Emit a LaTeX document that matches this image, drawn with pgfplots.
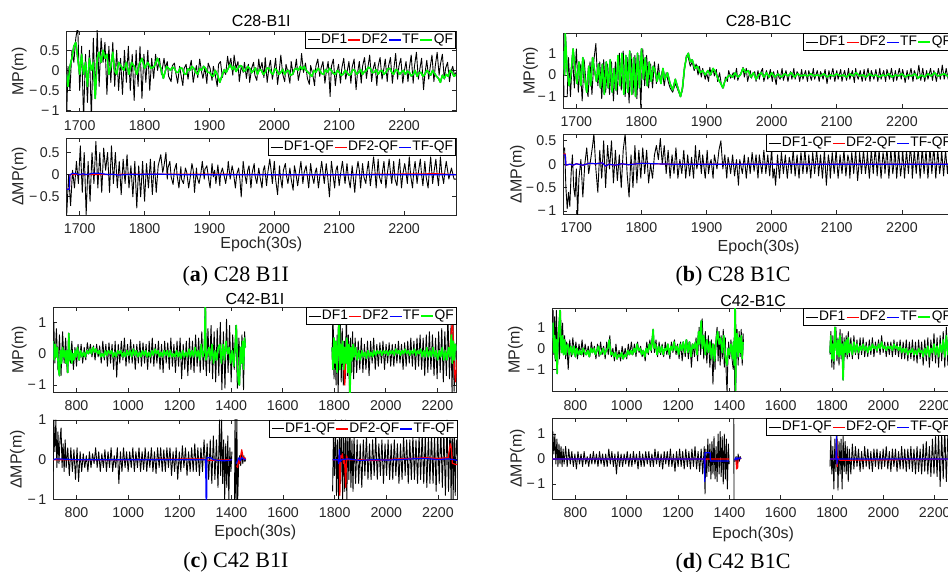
\documentclass[border=0pt]{standalone}
\usepackage{pgfplots}
\pgfplotsset{compat=1.18}
\usepackage{pgfplotstable}
\usepackage{fontspec}
\setmainfont{Liberation Sans}
\newfontfamily\capfont{Liberation Serif}
\definecolor{mg}{rgb}{0.15,0.15,0.15}
\definecolor{qfg}{HTML}{00FF00}

\pgfplotsset{
  mp/.style={
    scale only axis, anchor=south west, clip=true,
    axis line style={draw=mg, line width=0.4pt},
    tick align=inside, major tick length=2pt,
    tick style={draw=mg, line width=0.4pt},
    ticklabel style={font=\fontsize{7.1}{8}\selectfont, text=mg},
    xticklabel style={anchor=base, yshift=-9.2pt},
    every axis x label/.style={at={(axis description cs:0.5,0)}, anchor=base, font=\fontsize{8}{9}\selectfont, text=mg},
    every axis y label/.style={rotate=90, anchor=south, inner sep=0pt, font=\fontsize{8}{9}\selectfont, text=mg},
    every axis title/.style={at={(0.5,1)}, anchor=base, font=\fontsize{8}{9}\selectfont, text=black},
    unbounded coords=jump,
    every axis plot/.append style={line join=round},
    legend style={at={(1,1)}, anchor=north east, legend columns=-1, draw=black, line width=0.4pt, fill=white,
      font=\fontsize{6.9}{7.5}\selectfont, inner xsep=1pt, inner ysep=0.8pt,
      /tikz/every even column/.style={column sep=0pt}, nodes={inner sep=0.3pt}},
    legend image code/.code={\draw[#1] (0pt,0pt) -- (6pt,0pt);},
  },
  s1/.style={black, line width=0.45pt},
  s2/.style={red, line width=0.6pt},
  s3/.style={blue, line width=0.6pt},
  s4/.style={qfg, line width=0.8pt},
}

% QF series
\pgfplotstableread[row sep=\\]{x y\\
1680 -0.1\\ 1682 -0.4\\ 1685 0.1\\ 1688 0.3\\ 1691 0.6\\ 1694 0.7\\ 1697 0.3\\ 1700 -0.1\\ 1703 0.4\\ 1706 -0.1\\ 1709 0.2\\ 1712 -0.4\\ 1715 0.3\\ 1718 0.0\\ 1721 0.2\\ 1724 -0.7\\ 1727 0.3\\ 1730 0.45\\ 1733 0.2\\ 1736 0.5\\ 1739 0.3\\ 1742 0.4\\ 1745 -0.1\\ 1748 0.1\\ 1751 0.45\\ 1754 0.0\\ 1757 -0.1\\ 1760 0.2\\ 1764 0.1\\ 1768 0.0\\ 1772 0.2\\ 1776 -0.1\\ 1780 0.2\\ 1784 0.1\\ 1788 -0.1\\ 1792 0.15\\ 1796 0.3\\ 1800 0.05\\ 1805 0.2\\ 1810 0.05\\ 1815 0.1\\ 1820 0.3\\ 1825 0.05\\ 1829 -0.2\\ 1834 0.1\\ 1840 0.0\\ 1843 0.08\\ 1846 0.05\\ 1849 -0.05\\ 1852 -0.05\\ 1855 0.06\\ 1858 0.05\\ 1861 -0.08\\ 1864 -0.1\\ 1867 0.04\\ 1870 0.0\\ 1873 0.1\\ 1876 0.05\\ 1879 -0.05\\ 1882 -0.1\\ 1885 0.05\\ 1888 0.0\\ 1891 0.1\\ 1894 0.05\\ 1897 -0.05\\ 1900 -0.05\\ 1903 -0.12\\ 1906 -0.15\\ 1909 0.0\\ 1912 -0.1\\ 1916 -0.3\\ 1920 -0.1\\ 1923 0.02\\ 1926 -0.05\\ 1929 0.05\\ 1932 0.15\\ 1935 0.02\\ 1938 0.1\\ 1941 -0.03\\ 1944 0.05\\ 1947 0.12\\ 1950 0.1\\ 1953 -0.02\\ 1956 0.0\\ 1959 0.1\\ 1962 0.05\\ 1965 -0.06\\ 1968 0.0\\ 1971 0.06\\ 1974 -0.1\\ 1977 0.02\\ 1980 0.0\\ 1983 -0.1\\ 1986 -0.05\\ 1989 0.06\\ 1992 0.05\\ 1995 -0.06\\ 1998 -0.1\\ 2001 0.04\\ 2004 0.0\\ 2007 -0.1\\ 2010 -0.05\\ 2013 0.03\\ 2016 -0.1\\ 2019 -0.02\\ 2022 0.0\\ 2025 -0.12\\ 2028 -0.1\\ 2031 0.02\\ 2034 0.05\\ 2037 0.0\\ 2040 0.1\\ 2043 0.02\\ 2046 0.1\\ 2049 0.0\\ 2052 -0.05\\ 2055 -0.1\\ 2058 -0.15\\ 2061 0.0\\ 2064 -0.05\\ 2067 0.05\\ 2070 0.0\\ 2073 -0.08\\ 2076 -0.1\\ 2079 0.02\\ 2082 -0.05\\ 2085 0.05\\ 2088 0.0\\ 2091 -0.08\\ 2094 -0.1\\ 2097 0.0\\ 2100 -0.05\\ 2103 -0.12\\ 2106 -0.1\\ 2109 0.0\\ 2112 -0.05\\ 2115 -0.12\\ 2118 -0.1\\ 2121 0.02\\ 2124 0.0\\ 2127 -0.1\\ 2130 -0.05\\ 2133 0.02\\ 2136 -0.1\\ 2139 -0.03\\ 2142 0.0\\ 2145 0.08\\ 2148 0.05\\ 2151 -0.06\\ 2154 -0.05\\ 2157 0.02\\ 2160 -0.1\\ 2163 -0.02\\ 2166 0.0\\ 2169 -0.1\\ 2172 -0.05\\ 2175 0.04\\ 2178 0.05\\ 2181 -0.05\\ 2184 -0.1\\ 2187 0.02\\ 2190 0.0\\ 2193 -0.1\\ 2196 -0.05\\ 2199 0.0\\ 2202 -0.1\\ 2205 -0.02\\ 2208 -0.05\\ 2211 -0.14\\ 2214 -0.1\\ 2217 0.0\\ 2220 -0.15\\ 2223 -0.06\\ 2226 -0.05\\ 2229 -0.15\\ 2232 -0.1\\ 2235 0.0\\ 2238 -0.05\\ 2241 -0.12\\ 2244 0.0\\ 2247 -0.08\\ 2250 -0.15\\ 2253 -0.2\\ 2256 -0.3\\ 2259 -0.12\\ 2262 -0.2\\ 2265 -0.1\\ 2268 -0.15\\ 2271 0.0\\ 2274 -0.05\\ 2277 -0.15\\ 2280 -0.1\\
}\qfa

\pgfplotstableread[row sep=\\]{x y\\
1680 1.1\\ 1682 0.0\\ 1683 1.9\\ 1686 0.2\\ 1689 -0.5\\ 1692 0.1\\ 1695 1.2\\ 1698 0.3\\ 1701 -0.4\\ 1704 0.6\\ 1707 -0.5\\ 1710 0.8\\ 1713 -0.2\\ 1716 -0.8\\ 1719 0.4\\ 1722 -0.5\\ 1725 0.8\\ 1728 0.2\\ 1731 -0.3\\ 1734 0.5\\ 1737 -0.6\\ 1740 0.5\\ 1743 -0.9\\ 1746 0.6\\ 1749 -0.6\\ 1752 0.7\\ 1755 -0.8\\ 1758 0.3\\ 1761 -0.7\\ 1764 0.9\\ 1767 -0.5\\ 1770 1.0\\ 1773 -0.9\\ 1776 0.9\\ 1779 -0.8\\ 1782 1.1\\ 1785 -0.9\\ 1788 0.8\\ 1791 -1.0\\ 1794 1.0\\ 1797 -0.6\\ 1800 1.2\\ 1803 -0.2\\ 1806 0.8\\ 1809 -0.5\\ 1812 0.6\\ 1815 -0.3\\ 1818 0.4\\ 1821 0.2\\ 1824 -0.3\\ 1827 0.1\\ 1830 -0.4\\ 1833 0.3\\ 1836 -0.2\\ 1840 0.1\\ 1844 -0.4\\ 1848 -0.7\\ 1852 -0.2\\ 1856 -0.6\\ 1860 -1.0\\ 1863 -0.6\\ 1866 0.3\\ 1869 0.8\\ 1872 1.0\\ 1875 0.6\\ 1878 0.7\\ 1882 0.3\\ 1886 0.4\\ 1890 0.1\\ 1894 0.2\\ 1898 0.0\\ 1902 0.2\\ 1906 0.0\\ 1910 0.3\\ 1914 0.1\\ 1918 -0.2\\ 1922 -0.4\\ 1925 -0.6\\ 1928 -0.3\\ 1932 -0.1\\ 1936 0.0\\ 1940 -0.1\\ 1944 0.1\\ 1948 -0.1\\ 1952 0.0\\ 1956 0.3\\ 1960 0.1\\ 1964 0.2\\ 1968 -0.1\\ 1972 0.1\\ 1976 -0.2\\ 1980 0.0\\ 1984 0.1\\ 1988 -0.1\\ 1992 0.1\\ 1996 -0.1\\ 2000 0.1\\ 2005 -0.1\\ 2010 0.05\\ 2015 -0.1\\ 2020 0.05\\ 2025 -0.05\\ 2030 0.1\\ 2035 -0.1\\ 2040 0.05\\ 2045 -0.05\\ 2050 0.0\\ 2055 -0.05\\ 2060 0.05\\ 2065 -0.05\\ 2070 0.0\\ 2075 -0.05\\ 2080 0.05\\ 2085 -0.1\\ 2090 0.0\\ 2095 -0.05\\ 2100 0.05\\ 2105 -0.05\\ 2110 0.0\\ 2115 -0.1\\ 2120 0.05\\ 2125 -0.05\\ 2130 0.1\\ 2135 -0.05\\ 2140 0.0\\ 2145 -0.1\\ 2150 0.05\\ 2155 -0.05\\ 2160 0.0\\ 2165 -0.1\\ 2170 0.0\\ 2175 -0.05\\ 2180 0.05\\ 2185 -0.1\\ 2190 0.0\\ 2195 -0.05\\ 2200 0.05\\ 2205 -0.1\\ 2210 0.0\\ 2215 -0.05\\ 2220 0.05\\ 2225 -0.15\\ 2230 0.0\\ 2235 -0.1\\ 2240 0.05\\ 2245 -0.05\\ 2250 0.1\\ 2255 -0.05\\ 2260 0.0\\ 2265 0.05\\ 2270 -0.05\\ 2275 0.0\\ 2280 -0.1\\
}\qfb

\pgfplotstableread[row sep=\\]{x y\\
710 0.4\\ 714 -0.2\\ 718 0.3\\ 722 -0.1\\ 726 0.2\\ 730 -0.5\\ 734 -0.7\\ 738 0.1\\ 742 -0.3\\ 746 0.2\\ 750 -0.1\\ 754 0.1\\ 758 -0.3\\ 762 0.1\\ 766 -0.6\\ 770 0.65\\ 774 -0.2\\ 778 0.1\\ 782 -0.3\\ 786 0.0\\ 790 -0.2\\ 794 0.1\\ 798 -0.1\\ 804 0.2\\ 810 -0.2\\ 816 0.1\\ 822 -0.1\\ 828 0.05\\ 834 -0.1\\ 840 0.1\\ 846 0.0\\ 852 0.15\\ 858 0.0\\ 864 0.2\\ 870 0.05\\ 876 0.15\\ 882 0.0\\ 888 0.1\\ 894 -0.1\\ 900 0.0\\ 906 -0.1\\ 912 0.1\\ 918 -0.05\\ 924 0.1\\ 930 0.0\\ 936 0.1\\ 942 -0.1\\ 948 0.05\\ 954 -0.1\\ 960 0.1\\ 966 0.0\\ 972 0.1\\ 978 -0.1\\ 984 0.05\\ 990 -0.1\\ 996 0.1\\ 1002 -0.05\\ 1008 0.1\\ 1014 -0.1\\ 1020 0.15\\ 1026 -0.05\\ 1032 0.1\\ 1038 -0.1\\ 1044 0.05\\ 1050 -0.1\\ 1056 0.1\\ 1062 -0.05\\ 1068 0.1\\ 1074 -0.1\\ 1080 0.05\\ 1086 -0.1\\ 1092 0.1\\ 1098 -0.05\\ 1104 0.15\\ 1110 0.0\\ 1116 0.1\\ 1122 -0.1\\ 1128 0.05\\ 1134 -0.1\\ 1140 0.1\\ 1146 -0.05\\ 1152 0.1\\ 1158 -0.1\\ 1164 0.1\\ 1170 -0.1\\ 1176 0.0\\ 1182 -0.1\\ 1188 0.1\\ 1194 -0.1\\ 1200 0.05\\ 1206 -0.15\\ 1212 0.1\\ 1218 -0.1\\ 1224 0.05\\ 1230 -0.1\\ 1236 0.15\\ 1242 -0.1\\ 1248 0.1\\ 1254 -0.1\\ 1260 0.2\\ 1266 -0.1\\ 1272 0.1\\ 1278 -0.2\\ 1284 0.3\\ 1290 -0.1\\ 1296 0.1\\ 1300 1.6\\ 1302 -0.2\\ 1308 0.0\\ 1314 0.2\\ 1320 -0.2\\ 1326 0.3\\ 1332 -0.3\\ 1338 0.1\\ 1344 -0.2\\ 1350 0.2\\ 1356 0.3\\ 1362 -0.3\\ 1368 0.3\\ 1374 -0.2\\ 1380 0.4\\ 1386 0.0\\ 1392 0.2\\ 1398 -0.3\\ 1404 0.1\\ 1410 -0.4\\ 1416 0.3\\ 1420 0.9\\ 1424 -0.3\\ 1428 -0.9\\ 1432 -1.0\\ 1436 0.2\\ 1440 -0.3\\ 1444 0.4\\ 1448 -0.5\\ 1452 0.5\\ 1455 0.2\\ 1600 nan\\
1792 0.2\\ 1795 -0.5\\ 1799 0.5\\ 1803 -0.3\\ 1807 0.4\\ 1811 -0.6\\ 1815 0.3\\ 1819 1.5\\ 1822 -0.5\\ 1825 0.3\\ 1829 -0.3\\ 1833 0.4\\ 1837 -0.5\\ 1841 0.2\\ 1845 -0.3\\ 1849 0.5\\ 1853 -0.6\\ 1857 0.3\\ 1861 -1.3\\ 1865 0.2\\ 1869 -0.2\\ 1873 0.3\\ 1877 -0.1\\ 1883 0.2\\ 1889 -0.2\\ 1895 0.1\\ 1901 -0.2\\ 1907 0.1\\ 1913 -0.1\\ 1919 0.05\\ 1925 -0.15\\ 1931 0.1\\ 1937 -0.1\\ 1943 0.05\\ 1949 -0.1\\ 1955 0.1\\ 1961 -0.05\\ 1967 0.1\\ 1973 0.0\\ 1979 0.1\\ 1985 -0.05\\ 1991 0.1\\ 1997 0.0\\ 2003 0.1\\ 2009 -0.05\\ 2015 0.1\\ 2021 0.0\\ 2027 0.1\\ 2033 -0.05\\ 2039 0.15\\ 2045 0.0\\ 2051 0.1\\ 2057 -0.05\\ 2063 0.1\\ 2069 0.0\\ 2075 0.15\\ 2081 0.0\\ 2087 0.1\\ 2093 -0.05\\ 2099 0.1\\ 2105 0.0\\ 2111 0.15\\ 2117 -0.05\\ 2123 0.1\\ 2129 0.0\\ 2135 0.15\\ 2141 -0.1\\ 2147 0.1\\ 2153 -0.1\\ 2159 0.2\\ 2165 -0.1\\ 2171 0.1\\ 2177 -0.1\\ 2183 0.2\\ 2189 -0.1\\ 2195 0.1\\ 2201 -0.2\\ 2207 0.1\\ 2213 -0.1\\ 2219 0.2\\ 2225 -0.2\\ 2231 0.1\\ 2237 -0.2\\ 2243 0.2\\ 2249 -0.1\\ 2254 0.6\\ 2258 -0.3\\ 2262 0.4\\ 2266 -0.2\\ 2270 0.3\\ 2275 0.1\\
}\qfc

\pgfplotstableread[row sep=\\]{x y\\
710 0.5\\ 713 1.2\\ 716 -0.2\\ 719 0.6\\ 722 -0.5\\ 726 0.4\\ 729 -1.2\\ 732 0.3\\ 736 1.0\\ 740 1.8\\ 743 0.3\\ 746 -0.2\\ 750 0.6\\ 754 -0.3\\ 758 0.4\\ 762 -0.3\\ 766 0.1\\ 770 0.2\\ 776 -0.3\\ 782 0.1\\ 788 -0.3\\ 794 0.1\\ 800 -0.4\\ 806 0.0\\ 812 -0.3\\ 818 -0.1\\ 824 -0.3\\ 830 0.0\\ 836 -0.2\\ 842 -0.3\\ 848 -0.1\\ 854 -0.4\\ 860 0.0\\ 866 -0.2\\ 872 0.0\\ 878 -0.3\\ 884 -0.1\\ 890 0.1\\ 896 -0.3\\ 902 -0.2\\ 908 0.0\\ 914 -0.3\\ 920 -0.1\\ 926 0.0\\ 932 0.4\\ 938 -0.3\\ 944 -0.2\\ 950 -0.4\\ 956 -0.2\\ 962 -0.5\\ 968 -0.3\\ 974 -0.4\\ 980 -0.2\\ 986 -0.5\\ 992 -0.3\\ 998 -0.4\\ 1004 -0.1\\ 1010 -0.3\\ 1016 -0.1\\ 1022 -0.3\\ 1028 0.0\\ 1034 -0.2\\ 1040 0.2\\ 1046 -0.1\\ 1052 0.0\\ 1058 -0.3\\ 1064 -0.1\\ 1070 -0.4\\ 1076 0.0\\ 1082 -0.2\\ 1088 0.2\\ 1094 -0.1\\ 1100 0.5\\ 1103 0.9\\ 1106 0.0\\ 1112 0.2\\ 1118 -0.3\\ 1124 0.1\\ 1130 -0.2\\ 1136 0.1\\ 1142 -0.3\\ 1148 0.0\\ 1154 -0.1\\ 1160 0.2\\ 1166 -0.3\\ 1172 0.1\\ 1178 -0.1\\ 1184 0.3\\ 1190 -0.1\\ 1196 0.1\\ 1202 -0.3\\ 1208 0.2\\ 1214 -0.1\\ 1220 0.3\\ 1226 -0.2\\ 1232 0.4\\ 1238 -0.2\\ 1244 0.3\\ 1250 -0.4\\ 1256 0.2\\ 1262 0.0\\ 1268 0.3\\ 1274 -0.3\\ 1280 0.8\\ 1284 0.2\\ 1290 1.3\\ 1294 0.0\\ 1300 0.6\\ 1306 -0.3\\ 1312 0.4\\ 1318 -0.2\\ 1324 0.3\\ 1330 -0.5\\ 1336 0.2\\ 1342 -0.6\\ 1348 0.3\\ 1354 0.8\\ 1360 0.2\\ 1366 0.5\\ 1372 -0.2\\ 1378 0.6\\ 1384 -0.4\\ 1390 -0.8\\ 1395 0.0\\ 1400 -0.3\\ 1406 0.2\\ 1412 -0.5\\ 1416 0.3\\ 1419 -0.8\\ 1422 1.9\\ 1424 -2.0\\ 1426 0.5\\ 1430 0.7\\ 1434 -0.4\\ 1438 0.5\\ 1442 -0.2\\ 1446 0.6\\ 1450 -0.5\\ 1453 0.3\\ 1600 nan\\
1792 -0.2\\ 1795 0.6\\ 1799 -0.5\\ 1803 0.2\\ 1807 -0.6\\ 1811 1.0\\ 1815 0.2\\ 1819 -0.3\\ 1823 0.4\\ 1827 -0.4\\ 1831 0.6\\ 1835 -0.3\\ 1839 0.2\\ 1843 -1.5\\ 1847 0.3\\ 1851 -0.2\\ 1855 0.4\\ 1859 -0.3\\ 1863 0.5\\ 1867 -0.2\\ 1873 0.2\\ 1879 -0.3\\ 1885 0.3\\ 1891 -0.2\\ 1897 0.2\\ 1903 -0.2\\ 1909 0.1\\ 1915 -0.1\\ 1921 0.2\\ 1927 -0.1\\ 1933 0.1\\ 1939 -0.2\\ 1945 0.1\\ 1951 -0.1\\ 1957 0.2\\ 1963 0.0\\ 1969 0.1\\ 1975 -0.1\\ 1981 0.2\\ 1987 0.0\\ 1993 0.3\\ 1999 0.0\\ 2005 0.1\\ 2011 -0.1\\ 2017 0.1\\ 2023 0.0\\ 2029 0.1\\ 2035 -0.1\\ 2041 0.2\\ 2047 0.0\\ 2053 0.1\\ 2059 -0.1\\ 2065 0.1\\ 2071 -0.2\\ 2077 0.0\\ 2083 -0.2\\ 2089 0.0\\ 2095 -0.3\\ 2101 -0.1\\ 2107 -0.2\\ 2113 0.0\\ 2119 -0.3\\ 2125 -0.1\\ 2131 -0.3\\ 2137 0.0\\ 2143 -0.2\\ 2149 -0.1\\ 2155 -0.4\\ 2161 0.0\\ 2167 -0.3\\ 2173 0.1\\ 2179 -0.4\\ 2185 0.0\\ 2191 -0.2\\ 2197 0.2\\ 2203 -0.3\\ 2209 0.1\\ 2215 -0.4\\ 2221 0.2\\ 2227 -0.2\\ 2233 0.4\\ 2239 -0.4\\ 2245 0.6\\ 2251 -0.3\\ 2257 0.7\\ 2263 -0.2\\ 2268 0.3\\ 2275 0.0\\
}\qfd

\begin{document}
\begin{tikzpicture}
\useasboundingbox (0pt,0pt) rectangle (474pt,-286pt);
\clip (0pt,0pt) rectangle (474pt,-286pt);

% ---------- (a) C28 B1I ----------
\begin{axis}[mp, at={(33.35pt,-55.85pt)}, width=194.65pt, height=40.35pt,
  xmin=1680, xmax=2280, ymin=-1.03, ymax=0.98,
  xtick={1700,1800,1900,2000,2100,2200}, xticklabels={1700,1800,1900,2000,2100,2200},
  ytick={-1,-0.5,0,0.5}, yticklabels={{−\,1},{−\,0.5},{0},{0.5}},
  ylabel={MP(m)}, ylabel style={at={(axis description cs:-0.102,0.5)}},
  title={C28-B1I}, title style={yshift=2.2pt}]
\addplot[s1] coordinates {(1680,-1.1)(1682,0.1)(1685,-0.5)(1688,0.5)(1691,0.2)(1694,0.8)(1697,1.1)(1700,-0.5)(1703,0.6)(1706,-1.2)(1709,0.4)(1712,-0.8)(1715,0.5)(1718,-1.2)(1721,0.8)(1724,-0.6)(1727,1.0)(1730,-0.4)(1733,0.8)(1736,0.2)(1739,0.7)(1742,-0.6)(1745,0.6)(1748,-0.3)(1751,0.7)(1754,-0.4)(1757,0.5)(1760,-0.5)(1763,0.3)(1766,-0.6)(1769,0.5)(1772,-0.3)(1775,0.6)(1778,-0.5)(1781,0.4)(1784,-0.75)(1787,0.5)(1790,-0.4)(1793,0.6)(1796,-0.7)(1799,0.4)(1802,-0.3)(1805,0.5)(1808,-0.5)(1811,0.3)(1814,-0.2)(1817,0.4)(1820,0.0)(1823,0.3)(1826,-0.1)
(1830,0.3)(1832,0.05)(1835,0.22)(1837,-0.15)(1841,-0.28)(1843,0.12)(1846,0.18)(1848,-0.05)(1851,-0.32)(1854,0.1)(1856,-0.1)(1859,-0.38)(1861,0.05)(1864,0.15)(1867,-0.22)(1869,0.02)(1872,0.25)(1875,-0.3)(1877,-0.1)(1880,0.12)(1882,-0.18)(1885,0.28)(1888,-0.05)(1890,-0.2)(1893,0.08)(1896,-0.33)(1898,0.18)(1901,0.05)(1904,-0.25)(1906,0.1)(1909,-0.12)(1912,-0.4)(1914,0.15)(1917,0.22)(1920,-0.18)(1922,0.0)(1925,-0.1)(1928,0.35)(1930,0.1)(1933,0.3)(1936,-0.12)(1938,0.38)(1941,0.05)(1944,0.22)(1946,-0.28)(1949,0.1)(1952,-0.05)(1954,0.2)(1957,-0.2)(1960,0.15)(1962,-0.3)(1965,0.05)(1968,0.2)(1970,-0.12)(1973,-0.25)(1976,0.28)(1978,0.0)(1981,0.2)(1984,-0.18)(1986,0.32)(1989,-0.3)(1992,0.1)(1994,0.25)(1997,-0.22)(2000,0.05)(2002,0.3)(2005,-0.35)(2008,0.05)(2010,0.38)(2013,-0.1)(2016,-0.28)(2018,0.15)(2021,-0.05)(2024,-0.32)(2026,0.22)(2029,-0.1)(2032,0.05)(2034,0.28)(2037,-0.25)(2040,0.0)(2042,0.42)(2045,-0.05)(2048,0.18)(2051,-0.2)(2054,-0.35)(2056,0.12)(2059,-0.08)(2062,-0.38)(2064,0.1)(2067,0.28)(2070,-0.15)(2072,0.05)(2075,0.22)(2078,-0.32)(2080,-0.05)(2083,0.22)(2086,-0.65)(2088,0.1)(2091,0.28)(2094,-0.38)(2096,-0.1)(2099,0.15)(2102,-0.32)(2104,0.05)(2107,0.3)(2110,-0.22)(2112,-0.05)(2115,0.22)(2118,-0.32)(2120,0.08)(2123,0.28)(2126,-0.48)(2128,-0.1)(2131,0.22)(2134,-0.32)(2136,0.1)(2139,0.32)(2142,-0.2)(2144,0.05)(2147,0.38)(2150,-0.28)(2152,0.02)(2155,0.2)(2158,-0.38)(2160,0.1)(2163,0.32)(2166,-0.22)(2168,-0.05)(2171,0.28)(2174,-0.28)(2176,0.1)(2179,0.32)(2182,-0.32)(2184,0.0)(2187,0.42)(2190,-0.22)(2192,0.1)(2195,0.3)(2198,-0.32)(2200,-0.05)(2203,0.22)(2206,-0.28)(2208,0.05)(2211,0.38)(2214,-0.32)(2216,0.1)(2219,0.45)(2222,-0.22)(2224,0.0)(2227,0.3)(2230,-0.48)(2232,-0.1)(2235,0.25)(2238,-0.22)(2240,0.05)(2243,0.38)(2246,-0.28)(2248,0.1)(2251,0.45)(2254,-0.12)(2256,0.15)(2259,0.4)(2262,-0.22)(2264,0.05)(2267,0.2)(2270,-0.28)(2272,-0.05)(2275,0.1)(2278,-0.15)(2280,-0.05)};
\addplot[s2] table {\qfa};
\addplot[s3] table {\qfa};
\addplot[s4] table {\qfa};
\legend{DF1,DF2,TF,QF}
\end{axis}

\begin{axis}[mp, at={(33.35pt,-107.5pt)}, width=194.65pt, height=38.35pt,
  xmin=1680, xmax=2280, ymin=-0.91, ymax=0.82,
  xtick={1700,1800,1900,2000,2100,2200}, xticklabels={1700,1800,1900,2000,2100,2200},
  ytick={-0.5,0,0.5}, yticklabels={{−\,0.5},{0},{0.5}},
  ylabel={ΔMP(m)}, ylabel style={at={(axis description cs:-0.102,0.5)}},
  xlabel={Epoch(30s)}, xlabel style={yshift=-16.5pt}]
\addplot[s1] coordinates {(1680,-0.9)(1683,0.0)(1686,-0.7)(1689,0.1)(1692,-0.3)(1695,0.3)(1698,-0.2)(1701,0.65)(1704,-0.4)(1707,0.5)(1710,-0.9)(1713,0.3)(1716,-0.6)(1719,0.5)(1722,-0.2)(1725,0.75)(1728,-0.3)(1731,0.5)(1734,-0.4)(1737,0.6)(1740,0.1)(1743,0.5)(1746,-0.4)(1749,0.65)(1752,-0.2)(1755,0.5)(1758,-0.3)(1761,0.3)(1764,-0.45)(1767,0.35)(1770,-0.2)(1773,0.45)(1776,-0.3)(1779,0.2)(1782,-0.5)(1785,0.3)(1788,-0.75)(1791,0.2)(1794,-0.5)(1797,0.3)(1800,-0.6)(1803,0.25)(1806,-0.3)(1809,0.35)(1812,-0.45)(1815,0.3)(1818,-0.4)(1821,0.2)
(1825,0.45)(1828,0.05)(1830,0.2)(1833,0.5)(1835,-0.1)(1836,0.15)(1839,0.3)(1841,-0.05)(1844,-0.22)(1846,0.1)(1849,0.25)(1850,0.0)(1853,-0.3)(1856,0.18)(1857,-0.1)(1860,-0.2)(1863,0.15)(1865,0.05)(1868,-0.3)(1870,-0.1)(1873,0.25)(1875,0.1)(1877,-0.4)(1880,0.15)(1881,-0.05)(1884,-0.2)(1887,0.05)(1889,0.3)(1892,-0.1)(1893,0.12)(1896,0.2)(1899,-0.12)(1901,-0.3)(1904,0.25)(1906,-0.05)(1908,0.1)(1910,-0.2)(1913,0.22)(1916,-0.25)(1917,0.0)(1920,0.15)(1923,-0.05)(1925,-0.2)(1928,0.1)(1929,0.3)(1932,-0.1)(1935,0.2)(1937,0.05)(1940,-0.3)(1942,0.0)(1945,0.15)(1947,-0.12)(1949,-0.5)(1952,0.3)(1954,0.05)(1957,-0.2)(1959,0.1)(1961,0.2)(1964,-0.3)(1966,0.05)(1969,0.25)(1970,0.0)(1973,-0.2)(1976,0.15)(1978,-0.05)(1981,-0.3)(1983,0.1)(1985,0.2)(1988,-0.25)(1990,0.05)(1993,0.35)(1995,0.1)(1997,-0.2)(2000,0.3)(2002,-0.1)(2005,-0.45)(2008,0.2)(2009,0.0)(2012,-0.3)(2014,0.1)(2017,0.25)(2019,-0.05)(2021,-0.2)(2024,0.15)(2026,-0.1)(2029,-0.35)(2031,0.2)(2033,0.05)(2036,-0.25)(2039,0.1)(2041,0.3)(2044,-0.2)(2046,0.05)(2049,0.2)(2051,-0.05)(2053,-0.3)(2056,0.25)(2058,0.0)(2061,-0.2)(2063,0.05)(2065,0.15)(2068,-0.3)(2070,-0.05)(2073,0.3)(2075,0.05)(2077,-0.2)(2080,0.25)(2082,0.0)(2085,-0.5)(2088,0.3)(2090,0.05)(2093,-0.3)(2095,0.1)(2097,0.2)(2100,-0.25)(2102,0.0)(2105,0.3)(2107,0.05)(2109,-0.2)(2112,0.25)(2114,-0.05)(2117,-0.3)(2120,0.2)(2121,0.05)(2124,-0.4)(2126,0.0)(2129,0.3)(2131,0.1)(2133,-0.3)(2136,0.25)(2138,-0.05)(2141,-0.2)(2143,0.1)(2145,0.3)(2148,-0.25)(2150,0.0)(2153,0.4)(2155,0.1)(2157,-0.3)(2160,0.35)(2162,-0.05)(2165,-0.2)(2167,0.1)(2169,0.3)(2172,-0.3)(2174,0.0)(2177,0.35)(2179,0.05)(2181,-0.2)(2184,0.3)(2186,-0.1)(2189,-0.25)(2191,0.1)(2193,0.35)(2196,-0.3)(2198,0.0)(2201,0.25)(2203,0.05)(2205,-0.2)(2208,0.4)(2210,0.0)(2213,-0.3)(2215,0.1)(2217,0.3)(2220,-0.2)(2222,0.05)(2225,0.35)(2227,0.0)(2229,-0.25)(2232,0.3)(2234,-0.05)(2237,-0.3)(2239,0.1)(2241,0.4)(2244,-0.2)(2246,0.05)(2249,0.35)(2251,0.0)(2253,-0.25)(2256,0.4)(2258,0.05)(2261,-0.2)(2263,0.1)(2265,0.3)(2269,-0.1)(2273,0.15)(2277,-0.1)(2280,-0.1)};
\addplot[s2] coordinates {(1680,-0.33)(1684,-0.33)(1685,0.0)(1800,0.01)(1900,0.01)(2000,0.0)(2100,0.0)(2250,0.02)(2280,0.0)};
\addplot[s3] coordinates {(1680,-0.33)(1684,-0.33)(1685,0.0)(1688,0.02)(1690,0.03)(1695,0.02)(1700,0.0)(1705,0.02)(1710,0.0)(1720,0.03)(1730,0.03)(1740,0.01)(1745,0.0)(1750,0.01)(1760,-0.01)(1770,0.0)(1780,0.01)(1790,0.0)(1800,0.01)(1820,0.01)(1850,0.0)(1900,0.0)(2000,0.0)(2100,0.0)(2200,0.0)(2280,0.0)};
\legend{DF1-QF,DF2-QF,TF-QF}
\end{axis}

% ---------- (b) C28 B1C ----------
\begin{axis}[mp, at={(281.65pt,-54.15pt)}, width=195.35pt, height=37.5pt,
  xmin=1680, xmax=2280, ymin=-1.54, ymax=1.92,
  xtick={1700,1800,1900,2000,2100,2200}, xticklabels={1700,1800,1900,2000,2100,2200},
  ytick={-1,0,1}, yticklabels={{−\,1},{0},{1}},
  ylabel={MP(m)}, ylabel style={at={(axis description cs:-0.064,0.5)}},
  title={C28-B1C}, title style={yshift=3.3pt}]
\addplot[s1] coordinates {(1680,1.1)(1681,-1.0)(1686,-1.0)(1688,0.8)(1691,-1.0)(1694,0.9)(1697,-0.6)(1700,1.2)(1703,-0.8)(1706,0.5)(1709,-1.2)(1712,0.7)(1715,-0.4)(1718,-1.0)(1721,0.6)(1724,-0.9)(1727,0.7)(1730,1.45)(1733,-0.5)(1736,0.6)(1739,-1.1)(1742,0.7)(1745,-0.8)(1748,0.5)(1751,-0.9)(1754,0.6)(1757,-1.2)(1760,0.6)(1763,-0.9)(1766,1.0)(1769,-0.7)(1772,1.1)(1775,-1.0)(1778,0.8)(1781,-1.3)(1784,1.0)(1787,-0.9)(1790,0.9)(1793,-1.1)(1796,0.9)(1799,-1.5)(1802,1.2)(1805,-0.5)(1808,0.9)(1811,-0.6)(1814,0.5)(1817,-0.6)(1820,0.6)(1823,-0.4)(1826,0.5)(1829,-0.3)(1832,0.2)(1835,-0.5)(1838,0.1)(1841,-0.3)(1844,-0.6)(1848,-0.8)(1852,-0.4)(1856,-0.7)(1860,-1.0)(1863,-0.7)(1866,0.2)(1869,0.9)(1872,0.8)(1875,0.4)(1878,0.6)(1881,0.2)(1884,0.5)
(1887,0.0)(1889,0.4)(1892,-0.1)(1894,0.3)(1898,-0.2)(1900,0.1)(1903,-0.3)(1905,0.35)(1907,0.0)(1910,0.3)(1912,-0.05)(1915,0.25)(1917,-0.3)(1920,0.1)(1923,-0.5)(1926,-0.6)(1929,-0.1)(1932,-0.3)(1934,0.2)(1937,-0.15)(1941,0.1)(1943,-0.2)(1946,0.3)(1948,-0.25)(1950,-0.05)(1953,0.1)(1956,0.35)(1958,-0.1)(1961,0.3)(1963,-0.3)(1967,0.2)(1969,-0.15)(1971,0.05)(1974,0.15)(1976,-0.3)(1979,0.2)(1981,-0.2)(1983,0.1)(1986,0.3)(1988,-0.3)(1992,0.2)(1994,-0.2)(1996,0.0)(1998,0.25)(2001,-0.3)(2003,0.15)(2007,-0.45)(2009,0.2)(2011,-0.1)(2013,-0.2)(2016,0.3)(2018,-0.25)(2022,0.2)(2025,-0.3)(2027,0.0)(2029,0.15)(2031,-0.2)(2034,0.3)(2036,-0.2)(2039,0.15)(2041,0.05)(2043,-0.3)(2046,0.25)(2048,-0.2)(2052,0.2)(2055,-0.3)(2057,0.2)(2059,-0.05)(2061,-0.25)(2064,0.3)(2066,-0.2)(2070,0.2)(2073,-0.3)(2075,0.15)(2077,0.0)(2079,-0.2)(2082,0.25)(2085,-0.4)(2088,0.2)(2090,-0.2)(2092,0.05)(2094,0.3)(2097,-0.3)(2100,0.2)(2102,-0.2)(2106,0.25)(2108,-0.3)(2110,0.0)(2112,0.2)(2115,-0.25)(2118,0.3)(2120,-0.2)(2124,0.2)(2127,-0.35)(2129,0.3)(2131,-0.05)(2133,-0.2)(2136,0.2)(2139,-0.3)(2142,0.25)(2144,-0.25)(2148,0.3)(2151,-0.3)(2153,0.2)(2155,0.0)(2157,-0.2)(2160,0.25)(2163,-0.3)(2166,0.3)(2168,-0.2)(2172,0.2)(2175,-0.3)(2177,0.25)(2179,0.05)(2181,-0.2)(2184,0.3)(2187,-0.3)(2190,0.2)(2192,-0.25)(2196,0.3)(2199,-0.2)(2201,0.25)(2203,0.0)(2205,-0.35)(2208,0.2)(2210,-0.2)(2214,0.3)(2217,-0.3)(2219,0.2)(2221,0.05)(2223,-0.2)(2226,0.45)(2229,-0.25)(2232,0.3)(2235,-0.3)(2238,0.2)(2240,-0.2)(2244,0.3)(2247,-0.25)(2249,0.2)(2251,0.0)(2253,-0.3)(2256,0.3)(2259,-0.2)(2262,0.45)(2265,-0.2)(2268,0.3)(2271,-0.2)(2274,0.2)(2277,-0.1)(2280,0.0)};
\addplot[s2] table {\qfb};
\addplot[s3] table {\qfb};
\addplot[s4] table {\qfb};
\legend{DF1,DF2,TF,QF}
\end{axis}

\begin{axis}[mp, at={(281.65pt,-107.15pt)}, width=195.35pt, height=40pt,
  xmin=1680, xmax=2280, ymin=-1.07, ymax=0.64,
  xtick={1700,1800,1900,2000,2100,2200}, xticklabels={1700,1800,1900,2000,2100,2200},
  ytick={-1,-0.5,0,0.5}, yticklabels={{−\,1},{−\,0.5},{0},{0.5}},
  ylabel={ΔMP(m)}, ylabel style={at={(axis description cs:-0.097,0.5)}},
  xlabel={Epoch(30s)}, xlabel style={yshift=-18.5pt}]
\addplot[s1] coordinates {(1680,0.3)(1682,0.35)(1684,-0.5)(1686,-0.95)(1688,-0.6)(1690,-0.9)(1692,-0.2)(1694,0.2)(1696,-0.5)(1698,-0.7)(1700,-0.1)(1702,-1.1)(1704,-0.3)(1707,0.1)(1710,-0.7)(1713,0.0)(1716,0.35)(1719,-0.2)(1722,0.1)(1725,0.4)(1727,0.65)(1730,-0.1)(1733,-0.6)(1736,0.3)(1739,-0.3)(1742,0.5)(1745,-0.5)(1748,0.4)(1751,-0.1)(1754,0.5)(1757,-0.4)(1760,0.3)(1763,-0.35)(1766,0.2)(1769,-0.5)(1772,0.3)(1775,0.65)(1778,-0.2)(1781,-0.7)(1784,0.2)(1787,-0.5)(1790,0.4)(1793,-0.4)(1796,0.3)(1799,-0.3)(1802,0.35)(1805,-0.2)(1808,0.3)(1811,-0.4)(1814,0.0)(1817,-0.3)(1820,0.2)(1823,0.4)(1826,0.1)(1829,0.55)(1832,0.0)(1835,0.4)(1838,-0.2)(1841,0.3)(1844,-0.3)(1847,0.2)(1850,-0.2)(1853,0.35)(1856,-0.3)(1859,0.1)(1862,-0.2)(1865,0.3)(1868,-0.3)(1871,0.2)(1874,-0.25)(1877,0.15)(1880,-0.3)
(1883,0.4)(1885,-0.1)(1887,0.05)(1889,0.3)(1892,-0.2)(1894,0.2)(1898,-0.3)(1901,0.3)(1903,-0.2)(1905,0.0)(1907,0.1)(1910,-0.3)(1912,0.2)(1916,-0.1)(1919,0.3)(1922,0.5)(1925,-0.1)(1928,0.2)(1931,-0.3)(1933,0.15)(1935,0.0)(1937,-0.2)(1940,0.2)(1943,-0.25)(1946,0.1)(1949,-0.45)(1951,0.1)(1953,-0.05)(1955,-0.2)(1958,0.2)(1961,-0.3)(1964,0.15)(1966,-0.05)(1967,-0.2)(1970,0.25)(1973,-0.15)(1976,0.2)(1979,-0.3)(1981,0.2)(1983,0.0)(1985,-0.2)(1988,0.3)(1991,-0.2)(1994,0.2)(1997,-0.25)(2000,0.35)(2002,-0.3)(2004,-0.1)(2006,-0.45)(2009,0.2)(2012,-0.3)(2015,0.25)(2017,-0.05)(2018,-0.2)(2021,0.2)(2024,-0.3)(2027,0.15)(2029,0.0)(2030,-0.2)(2033,0.3)(2036,-0.25)(2039,0.2)(2042,-0.3)(2044,0.1)(2045,0.25)(2048,-0.2)(2051,0.3)(2054,-0.2)(2056,0.0)(2057,0.2)(2060,-0.3)(2063,0.25)(2066,-0.2)(2069,0.3)(2071,0.0)(2072,-0.25)(2075,0.2)(2078,-0.3)(2081,0.3)(2084,-0.45)(2087,0.2)(2089,0.0)(2090,-0.3)(2093,0.25)(2096,-0.2)(2099,0.3)(2102,-0.3)(2104,0.0)(2105,0.2)(2108,-0.2)(2111,0.3)(2114,-0.25)(2117,0.2)(2119,0.05)(2120,-0.3)(2123,0.25)(2126,-0.2)(2129,0.3)(2132,-0.35)(2134,0.0)(2135,0.25)(2138,-0.2)(2141,0.3)(2144,-0.2)(2146,0.05)(2147,0.25)(2150,-0.3)(2153,0.3)(2156,-0.2)(2159,0.35)(2161,0.0)(2162,-0.25)(2165,0.3)(2168,-0.3)(2171,0.25)(2173,0.05)(2174,-0.2)(2177,0.35)(2180,-0.3)(2183,0.3)(2186,-0.2)(2188,0.05)(2189,0.4)(2192,-0.3)(2195,0.3)(2198,-0.25)(2200,0.0)(2201,0.35)(2204,-0.3)(2207,0.3)(2210,-0.2)(2213,0.4)(2215,0.05)(2216,-0.3)(2219,0.3)(2222,-0.2)(2225,0.35)(2228,-0.3)(2230,0.05)(2231,0.4)(2234,-0.2)(2237,0.3)(2240,-0.3)(2243,0.35)(2245,0.0)(2246,-0.2)(2249,0.4)(2252,-0.3)(2255,0.3)(2258,-0.2)(2260,0.05)(2261,0.3)(2264,-0.25)(2267,0.3)(2270,-0.2)(2273,0.25)(2276,-0.2)(2280,0.1)};
\addplot[s2] coordinates {(1680,0.22)(1683,0.22)(1684,-0.02)(1690,0.0)(1695,-0.02)(1700,0.01)(1710,-0.02)(1720,0.02)(1730,0.01)(1740,0.03)(1745,-0.04)(1750,0.0)(1760,-0.02)(1770,0.01)(1780,-0.01)(1800,0.02)(1820,0.01)(1850,0.0)(2000,0.0)(2280,0.0)};
\addplot[s3] coordinates {(1680,0.2)(1683,0.2)(1684,-0.02)(1690,0.0)(1695,-0.02)(1700,0.01)(1710,-0.02)(1720,0.02)(1730,0.01)(1740,0.03)(1745,-0.04)(1750,0.0)(1760,-0.02)(1770,0.01)(1780,-0.01)(1800,0.02)(1820,0.01)(1850,0.0)(2000,0.0)(2280,0.0)};
\legend{DF1-QF,DF2-QF,TF-QF}
\end{axis}

% ---------- (c) C42 B1I ----------
\begin{axis}[mp, at={(26.65pt,-196.15pt)}, width=201.7pt, height=42.5pt,
  xmin=710, xmax=2275, ymin=-1.23, ymax=1.48,
  xtick={800,1000,1200,1400,1600,1800,2000,2200}, xticklabels={800,1000,1200,1400,1600,1800,2000,2200},
  ytick={-1,0,1}, yticklabels={{−\,1},{0},{1}},
  ylabel={MP(m)}, ylabel style={at={(axis description cs:-0.065,0.5)}},
  title={C42-B1I}, title style={yshift=1.2pt}]
\addplot[s1] coordinates {(710,0.3)(712,1.0)(716,-0.3)(722,0.8)(728,-0.5)(734,0.6)(740,-0.7)(746,0.7)(752,-0.3)(758,0.5)(764,-0.6)(770,0.3)(776,-0.3)(782,0.4)(788,-0.5)(794,0.2)(800,-0.4)(806,0.3)(812,-0.2)(818,0.3)(824,-0.3)(830,0.2)(836,-0.2)(842,0.35)(848,0.0)(854,0.3)(860,-0.1)(866,0.25)(872,-0.2)(878,0.3)(884,-0.1)(890,0.25)(896,-0.3)(902,0.4)(908,-0.2)(914,0.3)(920,-0.4)(926,0.35)(932,-0.3)(938,0.3)(944,-0.5)(950,0.4)(956,-0.75)(962,0.3)(968,-0.3)(974,0.4)(980,-0.2)(986,0.5)(992,-0.4)(998,0.3)(1004,-0.3)(1010,0.45)(1016,-0.3)(1022,0.3)(1028,-0.5)(1034,0.3)(1040,-0.3)(1046,0.4)(1052,-0.4)(1058,0.35)(1064,-0.3)(1070,0.3)(1076,-0.5)(1082,0.4)(1088,-0.3)(1094,0.5)(1100,-0.4)(1106,0.3)(1112,-0.3)(1118,0.4)(1124,-0.5)(1130,0.3)(1136,-0.6)(1142,0.4)(1148,-0.3)(1154,0.35)(1160,-0.5)(1166,0.5)(1172,-0.4)(1178,0.3)(1184,-0.6)(1190,0.4)(1196,-0.4)(1202,0.5)(1208,-0.8)(1214,0.3)(1220,-0.5)(1226,0.4)(1232,-0.7)(1238,0.5)(1244,-0.5)(1250,0.4)(1256,-0.6)(1262,0.6)(1268,-0.4)(1274,0.5)(1280,-0.6)(1286,0.7)(1292,-0.5)(1298,0.3)(1304,-0.7)(1310,0.8)(1316,-0.6)(1322,0.9)(1328,-0.8)(1334,0.7)(1340,-0.9)(1346,0.8)(1352,-0.7)(1358,1.0)(1364,-1.15)(1370,0.7)(1376,-1.1)(1382,1.1)(1388,-0.6)(1394,0.9)(1400,-0.9)(1406,0.6)(1412,-0.5)(1418,0.9)(1424,-1.1)(1430,0.5)(1436,-0.5)(1442,0.6)(1448,-1.15)(1452,0.7)(1455,0.3)(1600,nan)
(1792,-0.2)(1795,1.5)(1799,-0.8)(1803,0.4)(1807,-1.0)(1811,0.6)(1815,-1.3)(1819,0.5)(1823,1.5)(1827,-0.9)(1831,0.8)(1835,-1.0)(1839,0.4)(1843,-0.8)(1847,1.5)(1851,-0.7)(1855,0.6)(1859,-1.3)(1863,0.5)(1867,-0.6)(1871,0.7)(1875,-0.8)(1881,0.5)(1887,-0.6)(1893,0.4)(1899,-0.5)(1905,0.5)(1911,-0.6)(1917,0.3)(1923,-0.5)(1929,0.4)(1935,-0.7)(1941,0.4)(1947,-0.3)(1953,0.5)(1959,-0.5)(1965,0.3)(1971,-0.4)(1977,0.35)(1983,-0.3)(1989,0.4)(1995,-0.5)(2001,0.3)(2007,-0.3)(2013,0.35)(2019,-0.4)(2025,0.3)(2031,-0.4)(2037,0.3)(2043,-0.3)(2049,0.4)(2055,-0.3)(2061,0.3)(2067,-0.5)(2073,0.35)(2079,-0.4)(2085,0.4)(2091,-0.3)(2097,0.5)(2103,-0.4)(2109,0.4)(2115,-0.5)(2121,0.5)(2127,-0.4)(2133,0.6)(2139,-0.5)(2145,0.5)(2151,-0.7)(2157,0.6)(2163,-0.6)(2169,0.7)(2175,-0.5)(2181,0.6)(2187,-0.7)(2193,0.5)(2199,-0.8)(2205,0.7)(2211,-0.6)(2217,0.8)(2223,-0.9)(2229,0.7)(2235,-0.7)(2241,1.2)(2247,-0.8)(2253,0.9)(2257,-1.3)(2261,1.0)(2265,-1.2)(2270,0.3)(2275,0.2)};
\addplot[s2] table {\qfc};
\addplot[s3] table {\qfc};
\addplot[s2, forget plot] coordinates {(1836,-0.2)(1841,-1.0)(1845,0.2)(1900,nan)(2248,0.1)(2254,0.7)(2258,1.0)(2262,0.5)(2266,-0.5)(2270,-0.9)(2275,-0.2)};
\addplot[s4] table {\qfc};
\legend{DF1,DF2,TF,QF}
\end{axis}

\begin{axis}[mp, at={(26.65pt,-249.65pt)}, width=202pt, height=39.65pt,
  xmin=710, xmax=2275, ymin=-1, ymax=1,
  xtick={800,1000,1200,1400,1600,1800,2000,2200}, xticklabels={800,1000,1200,1400,1600,1800,2000,2200},
  ytick={-1,0,1}, yticklabels={{−\,1},{0},{1}},
  ylabel={ΔMP(m)}, ylabel style={at={(axis description cs:-0.069,0.5)}},
  xlabel={Epoch(30s)}, xlabel style={yshift=-18.7pt}]
\addplot[s1] coordinates {(710,-0.3)(712,1.0)(716,0.2)(720,1.0)(724,-0.2)(728,0.7)(732,-0.1)(736,0.5)(740,0.8)(744,-0.2)(748,0.4)(752,-0.3)(756,0.5)(760,-0.2)(766,0.3)(772,-0.4)(778,0.3)(784,-0.3)(790,0.25)(796,-0.5)(802,0.3)(808,-0.55)(814,0.2)(820,-0.3)(826,0.15)(832,-0.2)(838,0.1)(844,-0.3)(850,0.2)(856,-0.2)(862,0.15)(868,-0.1)(874,0.3)(880,-0.2)(886,0.2)(892,-0.3)(898,0.15)(904,-0.2)(910,0.25)(916,-0.3)(922,0.2)(928,-0.2)(934,0.3)(940,-0.3)(946,0.1)(952,-0.2)(958,0.3)(964,-0.6)(970,0.2)(976,-0.3)(982,0.3)(988,-0.2)(994,0.2)(1000,-0.3)(1006,0.2)(1012,-0.2)(1018,0.3)(1024,-0.3)(1030,0.2)(1036,-0.2)(1042,0.3)(1048,-0.3)(1054,0.2)(1060,-0.25)(1066,0.3)(1072,-0.3)(1078,0.2)(1084,-0.2)(1090,0.3)(1096,-0.3)(1102,0.2)(1108,-0.35)(1114,0.3)(1120,-0.2)(1126,0.3)(1132,-0.3)(1138,0.25)(1144,-0.3)(1150,0.3)(1156,-0.2)(1162,0.3)(1168,-0.4)(1174,0.2)(1180,-0.3)(1186,0.3)(1192,-0.5)(1198,0.2)(1204,-0.3)(1210,0.35)(1216,-0.2)(1222,0.3)(1228,-0.4)(1234,0.2)(1240,-0.3)(1246,0.3)(1252,-0.3)(1258,0.4)(1264,-0.3)(1270,0.3)(1276,-0.4)(1282,0.3)(1288,-0.3)(1294,0.5)(1300,-0.3)(1306,0.4)(1312,-0.5)(1318,0.5)(1324,-0.6)(1330,0.6)(1336,-0.5)(1342,0.5)(1348,-0.7)(1354,1.0)(1358,-0.4)(1362,1.0)(1366,-0.6)(1370,0.5)(1374,-1.0)(1378,0.4)(1382,-0.7)(1386,0.6)(1390,-1.0)(1394,0.3)(1398,-0.3)(1402,0.2)(1406,nan)(1412,-1.1)(1414,1.1)(1418,-1.1)(1421,1.1)(1424,-1.1)(1428,-0.1)(1432,0.1)(1436,-0.15)(1440,0.2)(1444,-0.1)(1448,0.1)(1452,-0.05)(1455,0.0)(1600,nan)
(1792,-0.8)(1795,0.6)(1799,-0.4)(1803,1.0)(1807,-0.9)(1811,0.5)(1815,-1.0)(1819,0.8)(1823,-0.6)(1827,1.0)(1831,-1.0)(1835,0.6)(1839,-0.8)(1843,1.0)(1847,-1.0)(1851,0.7)(1855,-0.5)(1859,0.8)(1863,-0.7)(1867,0.5)(1871,-0.8)(1875,0.6)(1881,-0.6)(1887,0.5)(1893,-0.6)(1899,0.4)(1905,-0.7)(1911,0.5)(1917,-0.4)(1923,0.6)(1929,-0.5)(1935,0.4)(1941,-0.5)(1947,0.5)(1953,-0.4)(1959,0.6)(1965,-0.5)(1971,0.4)(1977,-0.4)(1983,0.5)(1989,-0.6)(1995,0.4)(2001,-0.4)(2007,0.5)(2013,-0.5)(2019,0.4)(2025,-0.5)(2031,0.5)(2037,-0.4)(2043,0.4)(2049,-0.6)(2055,0.4)(2061,-0.5)(2067,0.6)(2073,-0.4)(2079,0.5)(2085,-0.6)(2091,0.5)(2097,-0.5)(2103,0.6)(2109,-0.5)(2115,0.5)(2121,-0.6)(2127,0.6)(2133,-0.5)(2139,0.7)(2145,-0.6)(2151,0.6)(2157,-0.7)(2163,0.6)(2169,-0.6)(2175,0.7)(2181,-0.6)(2187,0.6)(2193,-0.8)(2199,0.7)(2205,-0.6)(2211,0.8)(2217,-0.7)(2223,0.7)(2229,-0.9)(2235,1.0)(2241,-0.8)(2247,0.9)(2251,-1.0)(2255,0.8)(2259,-1.0)(2263,0.9)(2267,-0.9)(2271,0.5)(2275,0.1)};
\addplot[s2] coordinates {(710,0.0)(1000,0.0)(1290,0.02)(1310,-0.02)(1400,0.0)(1406,nan)(1420,-0.15)(1424,-0.2)(1428,0.0)(1432,-0.1)(1436,0.1)(1440,0.25)(1444,0.1)(1448,0.0)(1452,0.05)(1455,0.0)(1600,nan)
(1792,0.0)(1815,0.0)(1818,0.1)(1820,-0.9)(1823,0.1)(1826,0.05)(1830,0.15)(1834,-0.1)(1838,0.0)(1843,-0.7)(1846,0.1)(1850,0.0)(1900,0.0)(1950,-0.02)(2000,0.0)(2050,0.02)(2100,0.03)(2150,0.05)(2200,0.03)(2240,0.05)(2248,0.4)(2252,0.3)(2256,-0.1)(2260,-0.1)(2266,-0.12)(2275,-0.12)};
\addplot[s3] coordinates {(710,0.0)(720,0.02)(800,0.0)(1000,0.0)(1200,0.0)(1300,0.0)(1302,-1.0)(1304,-1.0)(1305,0.05)(1320,0.05)(1330,0.0)(1350,-0.02)(1370,-0.03)(1390,-0.02)(1402,0.0)(1406,nan)(1418,-0.1)(1422,-0.05)(1426,0.02)(1430,0.05)(1434,-0.03)(1440,0.05)(1445,0.03)(1450,0.0)(1455,0.02)(1600,nan)
(1792,0.0)(1813,0.0)(1816,-0.1)(1818,0.25)(1821,-0.05)(1828,0.0)(1850,0.02)(1900,-0.02)(1950,0.0)(2000,-0.01)(2050,0.0)(2100,0.02)(2150,0.03)(2200,0.0)(2240,0.02)(2260,0.0)(2275,-0.02)};
\legend{DF1-QF,DF2-QF,TF-QF}
\end{axis}

% ---------- (d) C42 B1C ----------
\begin{axis}[mp, at={(276.15pt,-195.85pt)}, width=200.85pt, height=41.7pt,
  xmin=710, xmax=2275, ymin=-2.06, ymax=1.9,
  xtick={800,1000,1200,1400,1600,1800,2000,2200}, xticklabels={800,1000,1200,1400,1600,1800,2000,2200},
  ytick={-1,0,1}, yticklabels={{−\,1},{0},{1}},
  ylabel={MP(m)}, ylabel style={at={(axis description cs:-0.072,0.5)}},
  title={C42-B1C}, title style={yshift=1pt}]
\addplot[s1] coordinates {(710,0.8)(713,1.8)(716,-0.3)(719,1.5)(722,-0.6)(726,1.8)(730,-0.3)(734,0.8)(738,-0.5)(742,1.8)(746,0.1)(750,1.2)(754,-0.3)(758,0.6)(762,-0.5)(766,0.3)(772,-1.0)(778,0.4)(784,-0.4)(790,0.5)(796,-0.3)(802,0.3)(808,-0.5)(814,0.2)(820,-0.3)(826,0.4)(832,-0.4)(838,0.2)(844,-0.3)(850,0.1)(856,-0.4)(862,0.3)(868,-0.2)(874,0.1)(880,-0.5)(886,0.2)(892,-0.4)(898,0.3)(904,-0.3)(910,0.1)(916,-0.5)(922,0.3)(928,-0.3)(934,0.6)(940,-0.4)(946,0.0)(952,-0.6)(958,0.2)(964,-0.5)(970,-0.1)(976,-0.6)(982,0.1)(988,-0.4)(994,0.0)(1000,-0.5)(1006,0.2)(1012,-0.3)(1018,0.3)(1024,-0.3)(1030,0.2)(1036,-0.4)(1042,0.3)(1048,-0.2)(1054,0.1)(1060,-0.4)(1066,-0.1)(1072,-0.6)(1078,0.3)(1084,-0.3)(1090,0.4)(1096,-0.2)(1102,0.7)(1108,-0.2)(1114,0.4)(1120,-0.4)(1126,0.3)(1132,-0.3)(1138,0.2)(1144,-0.4)(1150,0.3)(1156,-0.3)(1162,0.1)(1168,-0.5)(1174,0.3)(1180,-0.2)(1186,0.4)(1192,-0.3)(1198,0.2)(1204,-0.5)(1210,0.3)(1216,-0.6)(1222,0.2)(1228,-0.4)(1234,0.4)(1240,-0.5)(1246,0.3)(1252,-0.9)(1258,0.2)(1264,-0.4)(1270,0.5)(1276,-0.6)(1282,1.0)(1288,-0.3)(1294,1.4)(1300,-0.5)(1306,0.8)(1312,-0.7)(1318,0.6)(1324,-0.9)(1330,0.4)(1336,-1.7)(1340,0.2)(1344,-1.0)(1348,0.5)(1352,1.0)(1356,-0.6)(1360,0.8)(1364,-0.8)(1368,0.6)(1372,-0.5)(1376,0.9)(1380,-0.9)(1384,0.5)(1388,-1.4)(1391,-2.1)(1393,-1.0)(1397,0.3)(1401,-0.5)(1406,0.4)(1411,-0.6)(1415,-1.0)(1418,0.5)(1421,-2.1)(1424,1.8)(1427,-0.5)(1430,0.9)(1434,-0.8)(1438,0.8)(1442,-0.4)(1446,0.9)(1450,-0.8)(1453,0.7)(1455,0.2)(1600,nan)
(1792,-0.3)(1795,0.8)(1799,-0.9)(1803,0.6)(1807,-1.0)(1811,0.4)(1815,1.0)(1819,-0.6)(1823,0.5)(1827,-0.8)(1831,0.9)(1835,-0.5)(1839,0.7)(1843,-1.2)(1847,0.5)(1851,-0.4)(1855,0.6)(1859,-0.5)(1863,0.8)(1867,-0.4)(1873,0.5)(1879,-0.5)(1885,0.6)(1891,-0.3)(1897,0.4)(1903,-0.5)(1909,0.5)(1915,-0.3)(1921,0.5)(1927,-0.4)(1933,0.3)(1939,-0.4)(1945,0.4)(1951,-0.3)(1957,0.5)(1963,-0.4)(1969,0.3)(1975,-0.2)(1981,0.4)(1987,-0.3)(1993,0.6)(1999,-0.2)(2005,0.3)(2011,-0.4)(2017,0.3)(2023,-0.3)(2029,0.3)(2035,-0.4)(2041,0.4)(2047,-0.3)(2053,0.3)(2059,-0.4)(2065,0.4)(2071,-0.5)(2077,0.3)(2083,-0.5)(2089,0.4)(2095,-0.6)(2101,0.3)(2107,-0.5)(2113,0.4)(2119,-0.6)(2125,0.3)(2131,-0.7)(2137,0.4)(2143,-0.5)(2149,0.3)(2155,-0.8)(2161,0.4)(2167,-0.6)(2173,0.5)(2179,-0.9)(2185,0.4)(2191,-0.6)(2197,0.7)(2203,-0.7)(2209,0.5)(2215,-0.9)(2221,0.6)(2227,-0.6)(2233,0.8)(2239,-0.9)(2245,1.0)(2251,-0.8)(2257,1.1)(2263,-0.6)(2268,0.8)(2275,0.0)};
\addplot[s2] table {\qfd};
\addplot[s3] table {\qfd};
\addplot[s4] table {\qfd};
\legend{DF1,DF2,TF,QF}
\end{axis}

\begin{axis}[mp, at={(276.15pt,-249.5pt)}, width=200.85pt, height=40.35pt,
  xmin=710, xmax=2275, ymin=-1.6, ymax=1.63,
  xtick={800,1000,1200,1400,1600,1800,2000,2200}, xticklabels={800,1000,1200,1400,1600,1800,2000,2200},
  ytick={-1,0,1}, yticklabels={{−\,1},{0},{1}},
  ylabel={ΔMP(m)}, ylabel style={at={(axis description cs:-0.067,0.5)}},
  xlabel={Epoch(30s)}, xlabel style={yshift=-19.5pt}]
\addplot[s1] coordinates {(710,-0.3)(712,1.1)(716,0.2)(720,1.0)(724,-0.2)(728,0.8)(732,-0.3)(736,0.6)(740,-0.2)(744,0.5)(748,-0.3)(752,0.4)(756,-0.2)(762,0.5)(768,-0.3)(774,0.4)(780,-0.2)(786,0.3)(792,-0.3)(798,0.2)(804,-0.4)(810,0.3)(816,-0.2)(822,0.2)(828,-0.3)(834,0.3)(840,-0.2)(846,0.1)(852,-0.3)(858,0.2)(864,-0.2)(870,0.3)(876,-0.2)(882,0.2)(888,-0.3)(894,0.3)(900,-0.2)(906,0.2)(912,-0.3)(918,0.2)(924,-0.3)(930,0.4)(936,-0.2)(942,0.3)(948,-0.3)(954,0.2)(960,-0.6)(966,0.3)(972,-0.3)(978,0.2)(984,-0.3)(990,0.2)(996,-0.2)(1002,0.3)(1008,-0.3)(1014,0.2)(1020,-0.3)(1026,0.3)(1032,-0.2)(1038,0.2)(1044,-0.4)(1050,0.3)(1056,-0.3)(1062,0.2)(1068,-0.3)(1074,0.3)(1080,-0.2)(1086,0.3)(1092,-0.3)(1098,0.2)(1104,-0.3)(1110,0.4)(1116,-0.2)(1122,0.3)(1128,-0.3)(1134,0.2)(1140,-0.4)(1146,0.3)(1152,-0.2)(1158,0.3)(1164,-0.3)(1170,0.4)(1176,-0.3)(1182,0.2)(1188,-0.5)(1194,0.3)(1200,-0.3)(1206,0.4)(1212,-0.3)(1218,0.3)(1224,-0.4)(1230,0.4)(1236,-0.3)(1242,0.3)(1248,-0.4)(1254,0.4)(1260,-0.3)(1266,0.5)(1272,-0.4)(1278,0.3)(1284,-0.5)(1290,0.4)(1296,-0.6)(1302,0.5)(1305,-1.4)(1308,0.4)(1312,-0.7)(1316,0.8)(1320,-0.5)(1324,0.6)(1328,-0.8)(1332,0.7)(1336,-0.6)(1340,0.9)(1344,-0.8)(1348,0.5)(1352,-0.9)(1356,1.0)(1360,-0.6)(1364,1.1)(1368,-0.7)(1372,0.9)(1376,-1.0)(1380,1.0)(1384,-0.8)(1388,0.8)(1392,-1.2)(1396,0.6)(1399,-0.2)(1408,nan)(1417,1.7)(1418,-1.7)(1420,nan)(1422,-0.1)(1426,0.1)(1430,-0.3)(1434,0.2)(1438,-0.1)(1442,0.1)(1445,0.0)(1600,nan)
(1792,-0.3)(1795,0.9)(1799,-0.6)(1803,0.5)(1807,-1.2)(1811,0.8)(1815,-0.5)(1819,1.0)(1823,-1.25)(1827,0.7)(1831,-0.6)(1835,0.8)(1839,-1.2)(1843,0.9)(1847,-0.5)(1851,0.7)(1855,-0.6)(1859,0.5)(1863,-0.9)(1867,0.4)(1873,-0.6)(1879,0.6)(1885,-0.4)(1891,0.5)(1897,-0.3)(1903,0.4)(1909,-0.5)(1915,0.3)(1921,-0.4)(1927,0.5)(1933,-0.3)(1939,0.4)(1945,-0.4)(1951,0.3)(1957,-0.5)(1963,0.4)(1969,-0.3)(1975,0.4)(1981,-0.4)(1987,0.3)(1993,-0.4)(1999,0.4)(2005,-0.3)(2011,0.5)(2017,-0.4)(2023,0.3)(2029,-0.5)(2035,0.4)(2041,-0.3)(2047,0.4)(2053,-0.5)(2059,0.3)(2065,-0.4)(2071,0.5)(2077,-0.4)(2083,0.4)(2089,-0.5)(2095,0.4)(2101,-0.4)(2107,0.5)(2113,-0.5)(2119,0.4)(2125,-0.6)(2131,0.5)(2137,-0.5)(2143,0.4)(2149,-0.6)(2155,0.6)(2161,-0.5)(2167,0.7)(2173,-0.6)(2179,0.5)(2185,-0.7)(2191,0.8)(2197,-0.6)(2203,0.9)(2209,-0.7)(2215,1.0)(2221,-1.1)(2227,1.0)(2233,-0.8)(2239,1.2)(2245,-0.9)(2251,1.0)(2257,-0.8)(2263,1.1)(2268,-0.7)(2275,0.2)};
\addplot[s2] coordinates {(710,0.0)(1300,0.0)(1302,0.03)(1305,-0.2)(1308,0.0)(1399,0.0)(1410,nan)(1420,0.0)(1426,-0.05)(1428,-0.4)(1432,-0.35)(1434,0.0)(1440,0.05)(1445,0.0)(1600,nan)
(1792,0.0)(1815,0.0)(1818,0.8)(1820,-0.3)(1822,0.1)(1826,0.0)(1830,-0.05)(2275,0.0)};
\addplot[s3] coordinates {(710,0.0)(1300,0.0)(1302,0.0)(1304,-0.9)(1305,0.25)(1325,0.25)(1326,-0.08)(1399,-0.08)(1410,nan)(1420,-0.05)(1424,0.05)(1428,-0.03)(1432,0.05)(1436,0.0)(1440,0.05)(1445,0.02)(1600,nan)
(1792,0.0)(1815,0.0)(1817,1.0)(1819,-0.2)(1821,0.0)(1830,0.0)(2275,0.0)};
\legend{DF1-QF,DF2-QF,TF-QF}
\end{axis}

% captions
\node[font=\capfont\fontsize{11}{12}\selectfont, anchor=base] at (117.9pt,-141pt) {(\textbf{a}) C28 B1I};
\node[font=\capfont\fontsize{11}{12}\selectfont, anchor=base] at (366.5pt,-140.85pt) {(\textbf{b}) C28 B1C};
\node[font=\capfont\fontsize{11}{12}\selectfont, anchor=base] at (117.9pt,-283.5pt) {(\textbf{c}) C42 B1I};
\node[font=\capfont\fontsize{11}{12}\selectfont, anchor=base] at (366.5pt,-284pt) {(\textbf{d}) C42 B1C};
\end{tikzpicture}
\end{document}
